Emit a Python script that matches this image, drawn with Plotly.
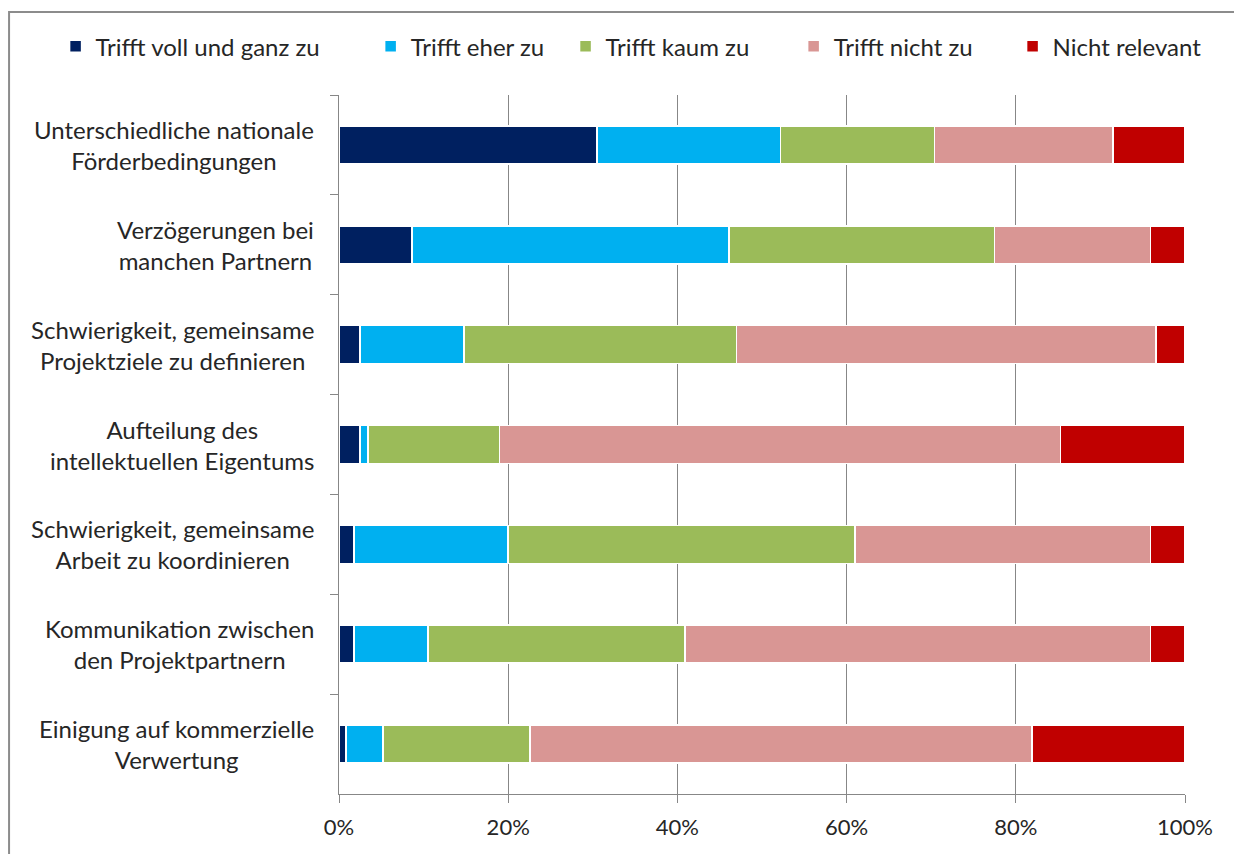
import plotly.graph_objects as go

categories = [
    "Unterschiedliche nationale<br>Förderbedingungen",
    "Verzögerungen bei<br>manchen Partnern",
    "Schwierigkeit, gemeinsame<br>Projektziele zu definieren",
    "Aufteilung des<br>intellektuellen Eigentums",
    "Schwierigkeit, gemeinsame<br>Arbeit zu koordinieren",
    "Kommunikation zwischen<br>den Projektpartnern",
    "Einigung auf kommerzielle<br>Verwertung",
]
series_names = ["Trifft voll und ganz zu", "Trifft eher zu", "Trifft kaum zu",
                "Trifft nicht zu", "Nicht relevant"]
voll_und_ganz = [30.5, 8.6, 2.5, 2.5, 1.8, 1.8, 0.8]
eher = [21.7, 37.5, 12.3, 0.9, 18.2, 8.7, 4.4]
kaum = [18.2, 31.4, 32.2, 15.6, 41.0, 30.4, 17.4]
nicht = [21.1, 18.4, 49.6, 66.3, 34.9, 55.0, 59.3]
nicht_relevant = [8.5, 4.1, 3.4, 14.7, 4.1, 4.1, 18.1]
x_ticks = [0, 20, 40, 60, 80, 100]
x_tick_labels = ["0%", "20%", "40%", "60%", "80%", "100%"]

colors = ["#002060", "#00B0F0", "#9BBB59", "#D99694", "#C00000"]
values = [voll_und_ganz, eher, kaum, nicht, nicht_relevant]
legend_x = [-0.335, 0.0374, 0.2678, 0.5374, 0.7962]

FONT = "Lato"
TXT = "#262626"
GRID = "#878787"

fig = go.Figure()
legend_layout = {}
for i, (name, vals, col) in enumerate(zip(series_names, values, colors)):
    lg = "legend" if i == 0 else f"legend{i + 1}"
    fig.add_trace(go.Bar(
        y=categories, x=vals, name=name, orientation="h",
        legend=lg, showlegend=True,
        marker=dict(color=col, line=dict(color="white", width=1.5)),
        width=0.38,
    ))
    legend_layout[lg] = dict(
        orientation="h", x=legend_x[i], xanchor="left", y=1.069, yanchor="middle",
        font=dict(family=FONT, size=24, color=TXT), bgcolor="rgba(0,0,0,0)",
    )

for cat in categories:
    fig.add_annotation(
        x=0, xref="paper", y=cat, yref="y", text=cat, showarrow=False,
        xanchor="right", xshift=-23, align="center",
        font=dict(family=FONT, size=24, color=TXT),
    )

# outer frame
fig.add_shape(type="rect", xref="paper", yref="paper",
              x0=-0.39, x1=1.066, y0=-0.2, y1=1.1187,
              line=dict(color="#8C8C8C", width=2), layer="below")

fig.update_layout(
    width=1234, height=846,
    barmode="stack",
    showlegend=True,
    paper_bgcolor="white", plot_bgcolor="white",
    margin=dict(l=331, r=57, t=87, b=60),
    font=dict(family=FONT, size=22, color=TXT),
    xaxis=dict(range=[0, 100], tickvals=x_ticks, ticktext=x_tick_labels,
               showgrid=True, gridcolor=GRID, gridwidth=1,
               showline=True, linecolor=GRID, linewidth=1,
               ticks="outside", ticklen=8, tickcolor=GRID, ticklabelstandoff=6,
               zeroline=False, tickfont=dict(family=FONT, size=22, color=TXT)),
    yaxis=dict(type="category", autorange="reversed", tickson="boundaries",
               ticks="outside", ticklen=8, tickcolor=GRID,
               showline=True, linecolor=GRID, linewidth=1,
               showgrid=False, showticklabels=False, zeroline=False),
    bargap=0.62,
    **legend_layout,
)

fig.write_html("out.html")
